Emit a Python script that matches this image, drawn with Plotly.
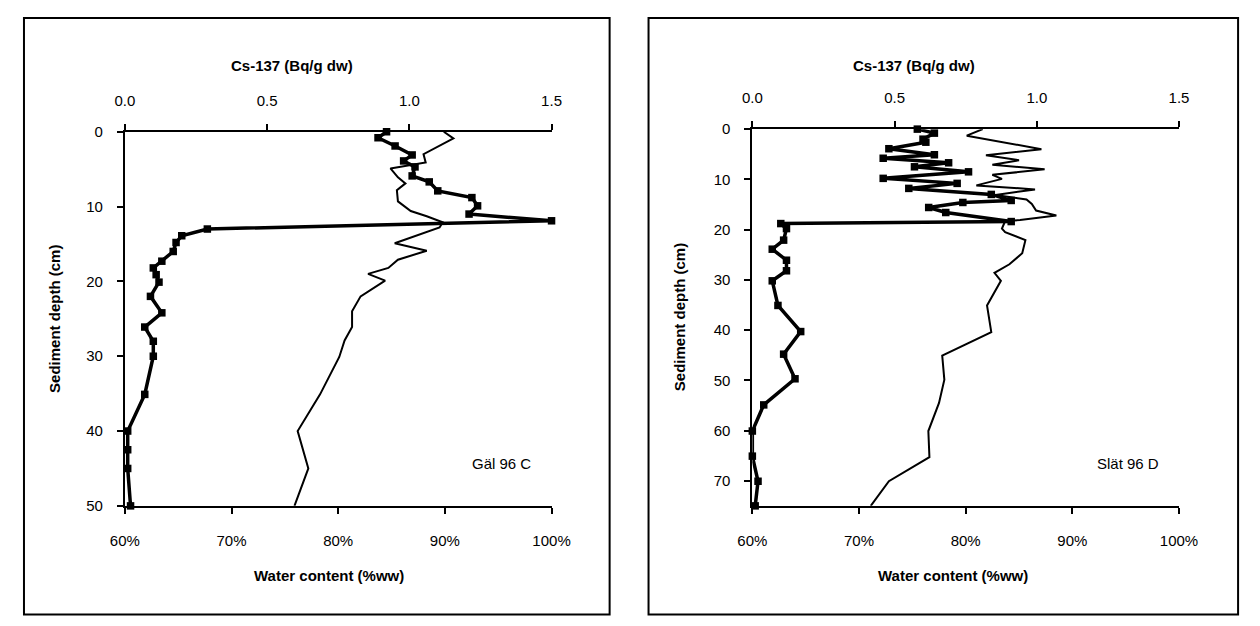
import plotly.graph_objects as go

# The page body has an 8px margin, so figure pixel = screen pixel - 8
W, H = 1252, 618
OFF = 8

# ---------------- Data: Gäl 96 C ----------------
gal_cs_depth = [0, 0.8, 1.9, 3.1, 3.9, 4.7, 5.9, 6.7, 7.9, 8.8, 9.9, 11.0, 11.9, 13.0, 13.9, 14.8,
                16.0, 17.3, 18.2, 19.1, 20.1, 22.0, 24.2, 26.1, 28.0, 30.0, 35.1, 40.0, 42.5, 45.0, 50.0]
gal_cs = [0.92, 0.89, 0.95, 1.01, 0.98, 1.02, 1.01, 1.07, 1.10, 1.22, 1.24, 1.21, 1.50, 0.29, 0.20, 0.18,
          0.17, 0.13, 0.10, 0.11, 0.12, 0.09, 0.13, 0.07, 0.10, 0.10, 0.07, 0.01, 0.01, 0.01, 0.02]
gal_wc_depth = [0, 0.9, 3.0, 4.1, 4.9, 6.1, 6.9, 7.8, 9.3, 10.6, 11.3, 12.1, 12.8, 14.9, 15.9, 17.1,
                18.2, 19.0, 19.9, 22.0, 24.0, 26.1, 27.9, 30.1, 35.1, 40.0, 45.0, 50.0]
gal_wc = [89.9, 90.8, 88.0, 88.2, 84.9, 85.6, 86.3, 85.5, 85.6, 86.8, 88.3, 89.8, 89.5, 85.3, 88.3, 85.6,
          84.7, 82.8, 84.4, 82.1, 81.3, 81.3, 80.6, 80.1, 78.3, 76.2, 77.2, 75.9]

# ---------------- Data: Slät 96 D ----------------
slat_cs_depth = [0, 0.8, 2.0, 2.6, 3.9, 5.1, 5.8, 6.7, 7.5, 8.5, 9.8, 10.8, 11.8, 13.0, 14.2, 14.6,
                 15.6, 16.6, 18.4, 18.8, 19.8, 22.1, 23.9, 26.1, 28.2, 30.2, 35.1, 40.3, 44.8, 49.7,
                 54.9, 60.1, 65.1, 70.1, 75.0]
slat_cs = [0.58, 0.64, 0.60, 0.61, 0.48, 0.64, 0.46, 0.69, 0.57, 0.76, 0.46, 0.72, 0.55, 0.84, 0.91, 0.74,
           0.62, 0.68, 0.91, 0.10, 0.12, 0.11, 0.07, 0.12, 0.12, 0.07, 0.09, 0.17, 0.11, 0.15,
           0.04, 0.00, 0.00, 0.02, 0.01]
slat_wc_depth = [0, 1.3, 4.0, 5.2, 6.2, 7.1, 8.0, 9.1, 9.9, 11.2, 12.0, 13.1, 14.0, 14.9, 16.2, 17.2,
                 18.1, 18.3, 19.8, 20.5, 22.1, 24.7, 26.9, 28.6, 30.2, 35.1, 40.4, 45.1, 49.9, 54.5,
                 60.1, 65.3, 70.1, 75.0]
slat_wc = [81.6, 80.1, 87.1, 81.9, 85.0, 82.5, 87.4, 82.5, 83.4, 81.0, 86.5, 82.8, 85.7, 86.2, 86.6, 88.5,
           85.1, 83.7, 83.4, 83.7, 85.6, 85.3, 84.1, 82.7, 83.3, 82.0, 82.4, 77.8, 78.0, 77.5,
           76.5, 76.6, 72.8, 71.1]

# ---------------- Axis labels / text ----------------
cs_ticks = [0.0, 0.5, 1.0, 1.5]
cs_ticktext = ["0.0", "0.5", "1.0", "1.5"]
wc_ticks = [60, 70, 80, 90, 100]
wc_ticktext = ["60%", "70%", "80%", "90%", "100%"]
gal_depth_ticks = [0, 10, 20, 30, 40, 50]
slat_depth_ticks = [0, 10, 20, 30, 40, 50, 60, 70]
cs_title = "Cs-137 (Bq/g dw)"
wc_title = "Water content (%ww)"
depth_title = "Sediment depth (cm)"
panel_names = ["Gäl 96 C", "Slät 96 D"]

FONT = "Liberation Sans, Arial, sans-serif"
FS = 15


def px_x(p):
    return (p - OFF) / W


def px_y(p):
    return (H - (p - OFF)) / H


fig = go.Figure()

# Left panel traces
fig.add_trace(go.Scatter(x=gal_wc, y=gal_wc_depth, mode="lines", line=dict(color="black", width=2),
                         xaxis="x", yaxis="y", cliponaxis=False, showlegend=False))
fig.add_trace(go.Scatter(x=gal_cs, y=gal_cs_depth, mode="lines+markers",
                         line=dict(color="black", width=3.5),
                         marker=dict(symbol="square", size=7.5, color="black"),
                         xaxis="x2", yaxis="y", cliponaxis=False, showlegend=False))
# Right panel traces
fig.add_trace(go.Scatter(x=slat_wc, y=slat_wc_depth, mode="lines", line=dict(color="black", width=2),
                         xaxis="x3", yaxis="y2", cliponaxis=False, showlegend=False))
fig.add_trace(go.Scatter(x=slat_cs, y=slat_cs_depth, mode="lines+markers",
                         line=dict(color="black", width=3.5),
                         marker=dict(symbol="square", size=7.5, color="black"),
                         xaxis="x4", yaxis="y2", cliponaxis=False, showlegend=False))

# plot areas in screen pixels
L = dict(x0=112.7, x1=551.3, y0=126, y1=510.7)
R = dict(x0=757.7, x1=1196.3, y0=123.3, y1=510.7)

common = dict(showgrid=False, zeroline=False, showline=True, linecolor="black", linewidth=2,
              ticks="outside", ticklen=6, tickwidth=1.5, tickcolor="black",
              tickfont=dict(family=FONT, size=FS, color="black"))


def xdom(P):
    return [px_x(P["x0"]), px_x(P["x1"])]


def ydom(P):
    return [px_y(P["y1"]), px_y(P["y0"])]


fig.update_layout(
    width=W, height=H,
    margin=dict(l=0, r=0, t=0, b=0),
    paper_bgcolor="white", plot_bgcolor="white",
    xaxis=dict(domain=xdom(L), anchor="y", side="bottom", range=[60, 100],
               tickvals=wc_ticks, ticktext=wc_ticktext, ticklabelstandoff=14, **common),
    xaxis2=dict(domain=xdom(L), anchor="y", side="top", overlaying="x", range=[0, 1.5],
                tickvals=cs_ticks, ticktext=cs_ticktext, ticklabelstandoff=12, **common),
    yaxis=dict(domain=ydom(L), anchor="x", range=[50, 0], tickvals=gal_depth_ticks,
               ticklabelstandoff=11, **common),
    xaxis3=dict(domain=xdom(R), anchor="y2", side="bottom", range=[60, 100],
                tickvals=wc_ticks, ticktext=wc_ticktext, ticklabelstandoff=14, **common),
    xaxis4=dict(domain=xdom(R), anchor="y2", side="top", overlaying="x3", range=[0, 1.5],
                tickvals=cs_ticks, ticktext=cs_ticktext, ticklabelstandoff=12, **common),
    yaxis2=dict(domain=ydom(R), anchor="x3", range=[75, 0], tickvals=slat_depth_ticks,
                ticklabelstandoff=11, **common),
)

title_font = dict(family=FONT, size=FS, color="black")
ann = []
for P, name, depth_x, lbl_x, cs_x, wc_x in [(L, panel_names[0], 41, 500, 284, 323),
                                           (R, panel_names[1], 683, 1144, 924, 964)]:
    base = dict(xref="paper", yref="paper", showarrow=False, xanchor="center", yanchor="middle")
    ann.append(dict(x=px_x(cs_x), y=px_y(58), text="<b>" + cs_title + "</b>", font=title_font, **base))
    ann.append(dict(x=px_x(wc_x), y=px_y(582), text="<b>" + wc_title + "</b>", font=title_font, **base))
    ann.append(dict(x=px_x(depth_x), y=px_y((P["y0"] + P["y1"]) / 2), text="<b>" + depth_title + "</b>",
                    textangle=-90, font=title_font, **base))
    ann.append(dict(x=px_x(lbl_x), y=px_y(467), text=name,
                    font=dict(family=FONT, size=FS, color="black"), **base))
fig.update_layout(annotations=ann)

shapes = []
for x0, x1 in [(9, 611), (651, 1257)]:
    shapes.append(dict(type="rect", xref="paper", yref="paper", x0=px_x(x0), x1=px_x(x1),
                       y0=px_y(622.5), y1=px_y(9), line=dict(color="black", width=2)))
fig.update_layout(shapes=shapes)

fig.write_html("out.html")
